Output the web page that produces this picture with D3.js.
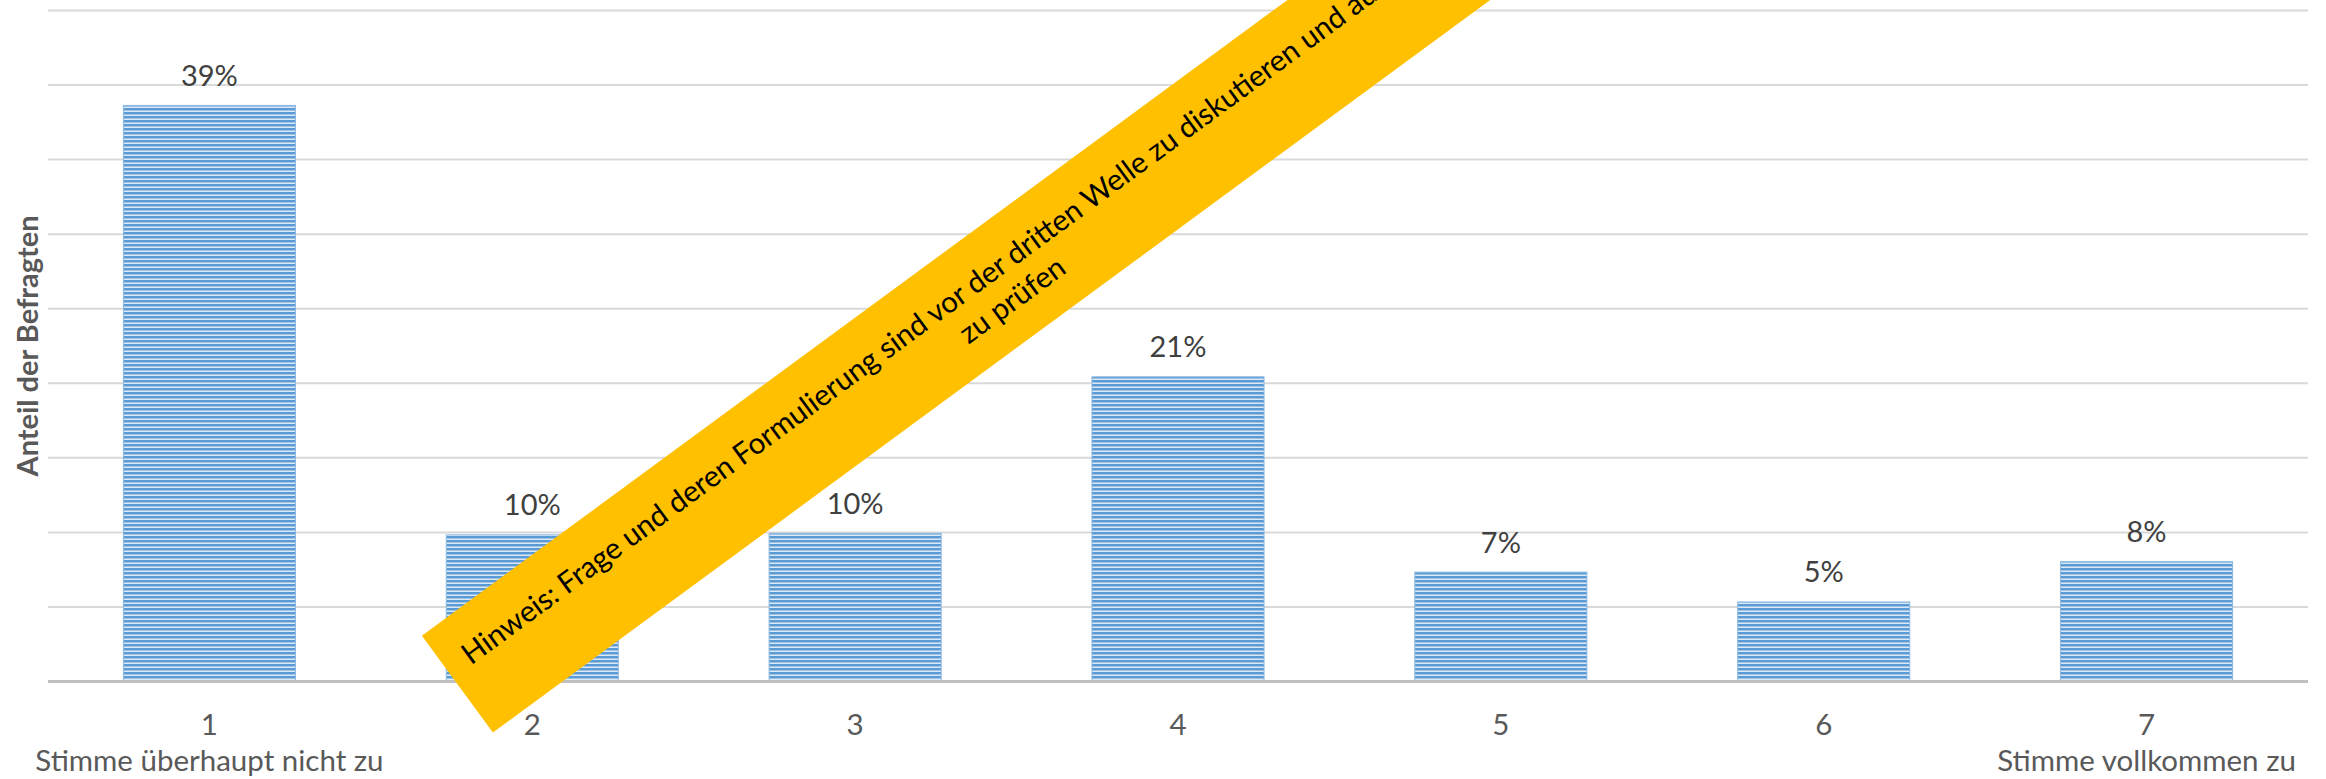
<!DOCTYPE html>
<html><head><meta charset="utf-8">
<script src="https://cdn.jsdelivr.net/npm/d3@7"></script>
<style>body{margin:0;background:#fff}svg{display:block}</style>
</head><body><svg id="c" width="2326" height="779"></svg>
<script>
const categories = ["1","2","3","4","5","6","7"];
const subLabels = ["Stimme überhaupt nicht zu","","","","","","Stimme vollkommen zu"];
const values = [38.6, 9.8, 9.9, 20.4, 7.3, 5.3, 8.0];
const dataLabels = ["39%","10%","10%","21%","7%","5%","8%"];
const gridTicks = [5,10,15,20,25,30,35,40,45];
const yTitle = "Anteil der Befragten";
const noteLine1 = "Hinweis: Frage und deren Formulierung sind vor der dritten Welle zu diskutieren und auf Verständlichkeit";
const noteLine2 = "zu prüfen";

const svg = d3.select("#c");
const FONT = "Lato, 'Open Sans', sans-serif";
const x = d3.scaleBand().domain(categories).range([48, 2308]).paddingInner(0.467).paddingOuter(0.2335);
const y = d3.scaleLinear().domain([0, 45]).range([681, 10]);

const defs = svg.append("defs");
const pat = defs.append("pattern").attr("id","stripes").attr("patternUnits","userSpaceOnUse").attr("width",10).attr("height",4);
pat.append("rect").attr("width",10).attr("height",4).attr("fill","#dde9f6");
pat.append("rect").attr("width",10).attr("height",2.5).attr("fill","#5b9bd5");

// gridlines
const grid = svg.append("g").attr("transform","translate(48,0)")
  .call(d3.axisLeft(y).tickValues(gridTicks).tickSize(-2260).tickFormat(""));
grid.select(".domain").remove();
grid.selectAll(".tick line").attr("stroke","#d9d9d9").attr("stroke-width",2);

// bars
svg.append("g").selectAll("rect").data(values).join("rect")
  .attr("x",(d,i)=>x(categories[i]))
  .attr("width",x.bandwidth())
  .attr("y",d=>y(d))
  .attr("height",d=>y(0)-y(d))
  .attr("fill","url(#stripes)")
  .attr("stroke","#8db8e2").attr("stroke-width",1);

// baseline
svg.append("line").attr("x1",48).attr("x2",2308).attr("y1",y(0)+0.5).attr("y2",y(0)+0.5)
  .attr("stroke","#bfbfbf").attr("stroke-width",3);

// data labels
svg.append("g").selectAll("text").data(values).join("text")
  .attr("x",(d,i)=>x(categories[i])+x.bandwidth()/2)
  .attr("y",d=>y(d)-19.5)
  .attr("text-anchor","middle")
  .attr("font-family",FONT).attr("font-size",29).attr("fill","#404040")
  .text((d,i)=>dataLabels[i]);

// x axis labels
const xAxis = svg.append("g").attr("transform",`translate(0,${y(0)})`)
  .call(d3.axisBottom(x).tickSize(0).tickFormat(""));
xAxis.select(".domain").remove();
xAxis.selectAll(".tick").each(function(c,i){
  const t = d3.select(this).append("text").attr("text-anchor","middle")
    .attr("font-family",FONT).attr("font-size",29.5).attr("fill","#595959");
  t.append("tspan").attr("x",0).attr("y",54).text(c);
  if (subLabels[i]) t.append("tspan").attr("x",0).attr("y",90).text(subLabels[i]);
});

// y title
svg.append("text").attr("transform","translate(38,346) rotate(-90)")
  .attr("text-anchor","middle").attr("font-family",FONT).attr("font-weight","bold")
  .attr("font-size",29).attr("fill","#595959").text(yTitle);

// banner
const b = svg.append("g").attr("transform","translate(457.4,684.2) rotate(-36.3)");
b.append("rect").attr("x",0).attr("y",-60).attr("width",1500).attr("height",120).attr("fill","#ffc000");
b.append("text").attr("x",22).attr("y",-7).attr("font-family",FONT).attr("font-size",29.5).attr("fill","#000").text(noteLine1);
b.append("text").attr("x",674.5).attr("y",29).attr("text-anchor","middle").attr("font-family",FONT).attr("font-size",29.5).attr("fill","#000").text(noteLine2);
</script></body></html>
